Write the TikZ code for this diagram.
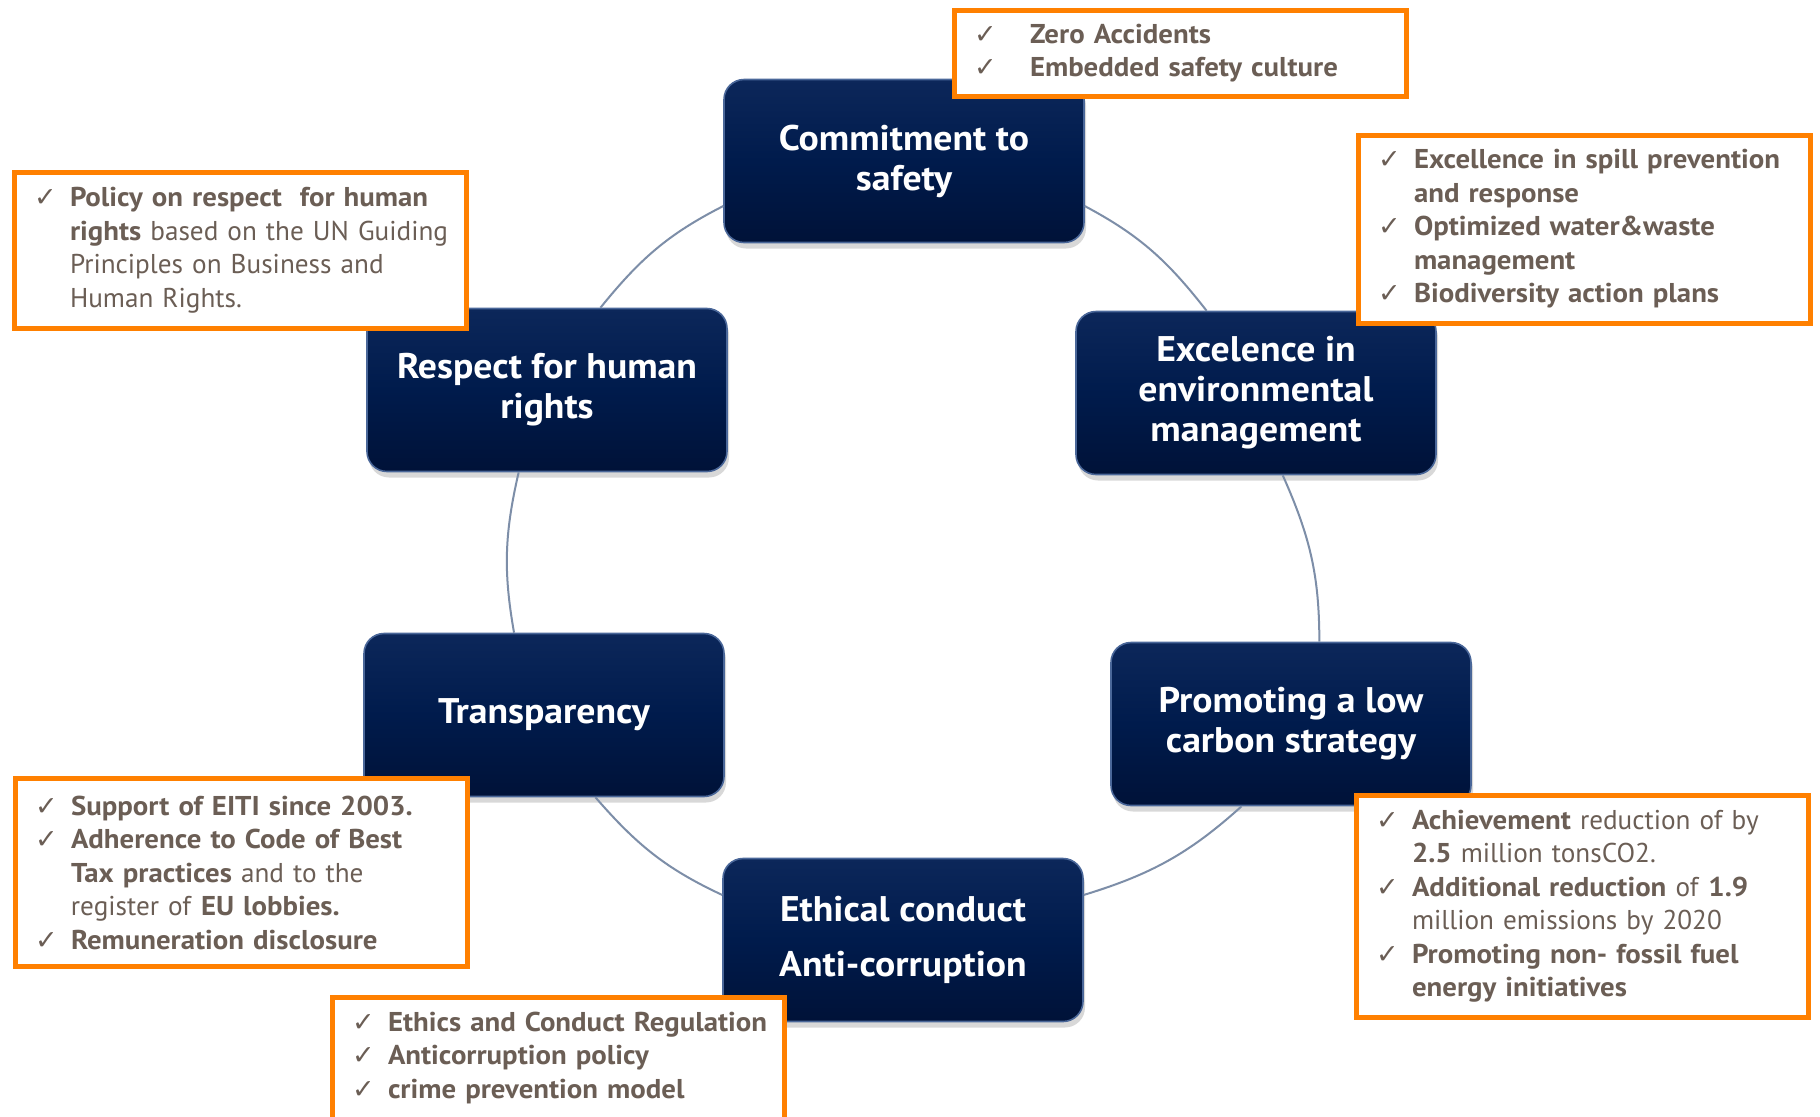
\documentclass[tikz,border=0pt]{standalone}
\usepackage{fontspec}
\setmainfont{PT Sans}[BoldFeatures={FakeStretch=1.06}]
\newfontfamily\chkfont{DejaVu Sans}
\usepackage{xcolor}
\usepackage{tikz}
\usetikzlibrary{shadows}

\definecolor{pillartop}{HTML}{0C275A}
\definecolor{pillarmid}{HTML}{001B4C}
\definecolor{pillarbot}{HTML}{001238}
\definecolor{pillaredge}{HTML}{4A6799}
\definecolor{calloutorange}{HTML}{FF8000}
\definecolor{callouttext}{HTML}{6B5E55}
\definecolor{ringline}{HTML}{7D8EA8}

\newlength{\chkw}
\setlength{\chkw}{18pt}
% lines only break where \newline says so
\newcommand{\citem}[1]{\hyphenpenalty=10000\rightskip=-14pt plus 1fil
  \noindent\hangindent=\chkw\hangafter=1\makebox[\chkw][l]{\chkfont\fontsize{13.5pt}{13.5pt}\selectfont ✓}#1\par}

\tikzset{
  pillar/.style={rectangle, rounded corners=10pt, minimum width=180pt, minimum height=81.5pt,
    top color=pillartop, bottom color=pillarbot, middle color=pillarmid,
    draw=pillaredge, line width=0.8pt, text=white, align=center,
    font=\fontsize{17.8pt}{20pt}\selectfont\bfseries,
    drop shadow={opacity=0.3, shadow xshift=1pt, shadow yshift=-3pt}},
  callout/.style={rectangle, draw=calloutorange, line width=2.5pt, fill=white, anchor=north west,
    text width=206pt, inner xsep=10pt, inner ysep=0pt, align=left, text=callouttext,
    font=\fontsize{13.6pt}{16.75pt}\selectfont},
  ring/.style={draw=ringline, line width=1pt}
}

\begin{document}
\begin{tikzpicture}[x=0.5pt, y=-0.5pt]
  \useasboundingbox (0,0) rectangle (1820,1116);
  \fill[white] (0,0) rectangle (1820,1116);
  \clip (0,0) rectangle (1820,1116);

  \node[pillar] (commit) at (904,161) {Commitment to\\safety};
  \node[pillar] (env) at (1256,393) {Excelence in\\environmental\\management};
  \node[pillar] (carbon) at (1291,724) {Promoting a low\\carbon strategy};
  \node[pillar] (ethics) at (903,940) {Ethical conduct\\[7.5pt]Anti-corruption};
  \node[pillar] (transp) at (544,715) {Transparency};
  \node[pillar] (human) at (547,390) {Respect for human\\rights};

  \draw[ring] (human.57) to[out=51,in=207] (commit.194);
  \draw[ring] (commit.-14) to[out=-28,in=128] (env.121);
  \draw[ring] (env.-72) to[out=-66,in=90] (carbon.71);
  \draw[ring] (carbon.-121) to[out=-138,in=17] (ethics.14);
  \draw[ring] (ethics.166) to[out=155,in=-49] (transp.-58);
  \draw[ring] (transp.110) to[out=100,in=-103] (human.-109);

  \node[callout, minimum height=43pt] (safetynote) at (951.5,7.5)
    {\setlength{\chkw}{28pt}\citem{\textbf{Zero Accidents}}\citem{\textbf{Embedded safety culture}}};
  \node[callout, minimum height=94pt] (envnote) at (1355.5,132.5)
    {\citem{\textbf{Excellence in spill prevention\newline and response}}\citem{\textbf{Optimized water\&waste\newline management}}\citem{\textbf{Biodiversity action plans}}};
  \node[callout, minimum height=78pt] (humannote) at (11.5,169.5)
    {\citem{\textbf{Policy on respect\ \ for human\newline rights} based on the UN Guiding\newline Principles on Business and\newline Human Rights.}};
  \node[callout, minimum height=94pt] (transpnote) at (12.5,776)
    {\citem{\textbf{Support of EITI since 2003.}}\citem{\textbf{Adherence to Code of Best\newline Tax practices} and to the\newline register of \textbf{EU lobbies.}}\citem{\textbf{Remuneration disclosure}}};
  \node[callout, minimum height=94pt] (ethicsnote) at (329.5,994.5)
    {\citem{\textbf{Ethics and Conduct Regulation}}\citem{\textbf{Anticorruption policy}}\citem{\textbf{crime prevention model}}\vspace*{33.5pt}};
  \node[callout, minimum height=111pt] (carbonnote) at (1353.5,792.5)
    {\citem{\textbf{Achievement} reduction of by\newline \textbf{2.5} million tonsCO2.}\citem{\textbf{Additional reduction} of \textbf{1.9}\newline million emissions by 2020}\citem{\textbf{Promoting non- fossil fuel\newline energy initiatives}}};
\end{tikzpicture}
\end{document}
